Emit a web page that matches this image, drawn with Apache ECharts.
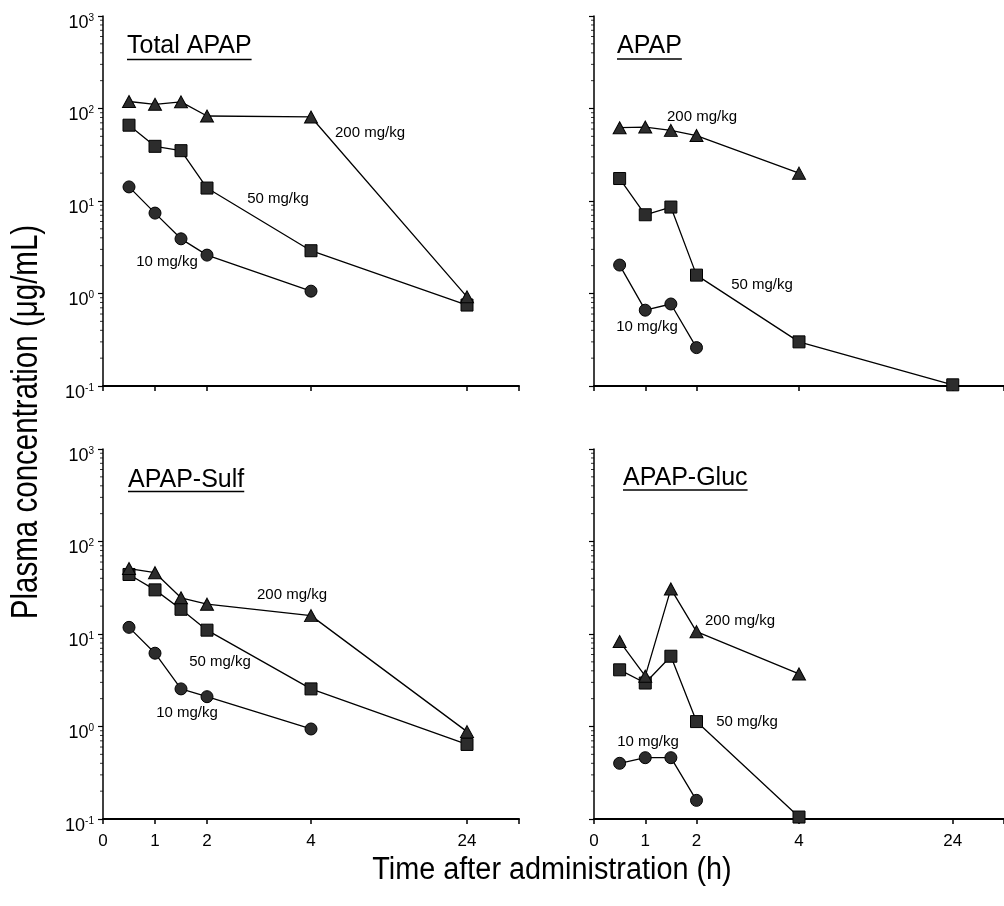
<!DOCTYPE html>
<html>
<head>
<meta charset="utf-8">
<script src="https://cdn.jsdelivr.net/npm/echarts@6/dist/echarts.min.js"></script>
<style>
  html, body { margin: 0; padding: 0; background: #fff; }
  #chart { width: 1004px; height: 906px; }
</style>
</head>
<body>
<div id="chart"></div>
<script>
// Sampling times (h) and the labelled ticks of the time axis
const times = [0.5, 1, 1.5, 2, 4, 24];
const tickTimes = [0, 1, 2, 4, 24];
const tickLabels = ['0', '1', '2', '4', '24'];

const doses = ['10 mg/kg', '50 mg/kg', '200 mg/kg'];
const panelTitles = ['Total APAP', 'APAP', 'APAP-Sulf', 'APAP-Gluc'];

// Plasma concentrations (µg/mL), one value per sampling time (null = not measured)
const total10  = [14.2, 7.4, 3.9, 2.6, 1.06, null];
const total50  = [66, 39, 35, 13.8, 2.9, 0.75];
const total200 = [119, 111, 118, 83, 81, 0.92];

const apap10  = [2.03, 0.66, 0.77, 0.26, null, null];
const apap50  = [17.5, 7.1, 8.6, 1.58, 0.30, 0.103];
const apap200 = [62, 63, 58, 51, 20, null];

const sulf10  = [11.8, 6.2, 2.55, 2.1, 0.94, null];
const sulf50  = [44, 30, 18.5, 11, 2.55, 0.64];
const sulf200 = [51, 46, 24.6, 21, 15.8, 0.88];

const gluc10  = [0.40, 0.46, 0.46, 0.159, null, null];
const gluc50  = [4.1, 2.95, 5.75, 1.13, 0.105, null];
const gluc200 = [8.3, 3.5, 30.7, 10.6, 3.7, null];

const panelData = [
  [total10, total50, total200],
  [apap10, apap50, apap200],
  [sulf10, sulf50, sulf200],
  [gluc10, gluc50, gluc200]
];

// Broken time axis: 0-4 h linear, 4-24 h compressed into 3 units, axis ends at 8
function timeAxisPos(t) {
  return t <= 4 ? t : 4 + (t - 4) * 3 / 20;
}
const AXIS_END = 8;

const FONT = '"Liberation Sans", Arial, Helvetica, sans-serif';

const grids = [
  { left: 103, top: 16, width: 416, height: 370 },
  { left: 594, top: 16, width: 416, height: 370 },
  { left: 103, top: 449, width: 416, height: 370 },
  { left: 594, top: 449, width: 416, height: 370 }
];

const symbols = ['circle', 'rect', 'triangle'];
const symbolSizes = [12, 12, [13, 12]];

const tickPos = tickTimes.map(timeAxisPos);

const xAxes = grids.map((g, i) => ({
  gridIndex: i,
  type: 'value',
  min: 0,
  max: AXIS_END,
  axisLine: { show: true, onZero: false, lineStyle: { color: '#000', width: 2 } },
  axisTick: {
    show: true, inside: false, length: 5,
    customValues: tickPos.concat([AXIS_END]),
    lineStyle: { color: '#000', width: 1.5 }
  },
  axisLabel: {
    show: i >= 2,
    customValues: tickPos,
    margin: 14,
    color: '#000',
    fontSize: 17,
    fontFamily: FONT,
    formatter: v => {
      const k = tickPos.findIndex(p => Math.abs(p - v) < 1e-9);
      return k >= 0 ? tickLabels[k] : '';
    }
  },
  splitLine: { show: false }
}));

const yAxes = grids.map((g, i) => ({
  gridIndex: i,
  type: 'log',
  logBase: 10,
  min: 0.1,
  max: 1000,
  axisLine: { show: true, lineStyle: { color: '#000', width: 1.5 } },
  axisTick: { show: true, inside: false, length: 5, lineStyle: { color: '#000', width: 1.2 } },
  axisLabel: {
    show: i % 2 === 0,
    margin: 9,
    padding: [14, 0, 0, 0],
    formatter: v => '{b|10}{s|' + Math.round(Math.log10(v)) + '}',
    rich: {
      b: { fontSize: 18, fontFamily: FONT, color: '#000', lineHeight: 20 },
      s: { fontSize: 10, fontFamily: FONT, color: '#000', verticalAlign: 'top', lineHeight: 12 }
    }
  },
  splitLine: { show: false }
}));

const series = [];
panelData.forEach((sets, i) => {
  sets.forEach((vals, j) => {
    const pts = [];
    vals.forEach((v, k) => { if (v !== null) pts.push([timeAxisPos(times[k]), v]); });
    series.push({
      type: 'line',
      name: panelTitles[i] + ' ' + doses[j],
      xAxisIndex: i,
      yAxisIndex: i,
      data: pts,
      symbol: symbols[j],
      symbolSize: symbolSizes[j],
      showAllSymbol: true,
      clip: false,
      lineStyle: { color: '#000', width: 1.3 },
      itemStyle: { color: '#2c2c2c', borderColor: '#000', borderWidth: 1 },
      z: 3 + j
    });
  });
  // minor log ticks (2..9 within each decade) on the concentration axis
  const minor = [];
  for (let e = -1; e < 3; e++) {
    for (let m = 2; m <= 9; m++) minor.push([0, m * Math.pow(10, e)]);
  }
  series.push({
    type: 'scatter',
    xAxisIndex: i,
    yAxisIndex: i,
    data: minor,
    symbol: 'rect',
    symbolSize: [3, 1],
    symbolOffset: [-1.5, 0],
    itemStyle: { color: '#000' },
    clip: false,
    silent: true,
    z: 2
  });
});

// text measurement for title underlines
const measureCtx = document.createElement('canvas').getContext('2d');
function textWidth(text, font) {
  measureCtx.font = font;
  return measureCtx.measureText(text).width;
}

const TITLE_FONT = '25px "Liberation Sans", Arial, sans-serif';
const titlePlaces = [
  { x: 127, y: 46, u: 59.5 },
  { x: 617, y: 46.5, u: 59 },
  { x: 128, y: 480, u: 491.5 },
  { x: 623, y: 478, u: 490 }
];

const graphics = [];
panelTitles.forEach((t, i) => {
  const p = titlePlaces[i];
  const w = textWidth(t, TITLE_FONT);
  graphics.push({
    type: 'text', x: p.x, y: p.y, silent: true,
    style: { text: t, font: TITLE_FONT, fill: '#000', textAlign: 'left', textVerticalAlign: 'middle', align: 'left', verticalAlign: 'middle' }
  });
  graphics.push({
    type: 'line', silent: true,
    shape: { x1: p.x, y1: p.u, x2: p.x + w, y2: p.u },
    style: { stroke: '#000', lineWidth: 1.5 }
  });
});

// dose annotations next to the curves: [panel, dose index, centre x, centre y]
const DOSE_FONT = '15px "Liberation Sans", Arial, sans-serif';
const doseLabelPlaces = [
  [0, 2, 370, 133], [0, 1, 278, 199], [0, 0, 167, 262],
  [1, 2, 702, 117], [1, 1, 762, 285], [1, 0, 647, 327],
  [2, 2, 292, 595], [2, 1, 220, 662], [2, 0, 187, 713],
  [3, 2, 740, 621], [3, 1, 747, 722], [3, 0, 648, 742]
];
doseLabelPlaces.forEach(([pi, d, x, y]) => {
  graphics.push({
    type: 'text', x: x, y: y, silent: true,
    style: { text: doses[d], font: DOSE_FONT, fill: '#000', textAlign: 'center', textVerticalAlign: 'middle', align: 'center', verticalAlign: 'middle' }
  });
});

// axis titles
graphics.push({
  type: 'text', x: 552, y: 870, silent: true, scaleX: 0.93,
  style: { text: 'Time after administration (h)', font: '31px "Liberation Sans", Arial, sans-serif', fill: '#000', textAlign: 'center', textVerticalAlign: 'middle', align: 'center', verticalAlign: 'middle' }
});
graphics.push({
  type: 'text', x: 27, y: 422, silent: true, rotation: Math.PI / 2, scaleX: 0.82,
  style: { text: 'Plasma concentration (\u03bcg/mL)', font: '36px "Liberation Sans", Arial, sans-serif', fill: '#000', textAlign: 'center', textVerticalAlign: 'middle', align: 'center', verticalAlign: 'middle' }
});

const chart = echarts.init(document.getElementById('chart'), null, { renderer: 'canvas' });
chart.setOption({
  animation: false,
  backgroundColor: '#fff',
  grid: grids,
  xAxis: xAxes,
  yAxis: yAxes,
  series: series,
  graphic: graphics
});
</script>
</body>
</html>
